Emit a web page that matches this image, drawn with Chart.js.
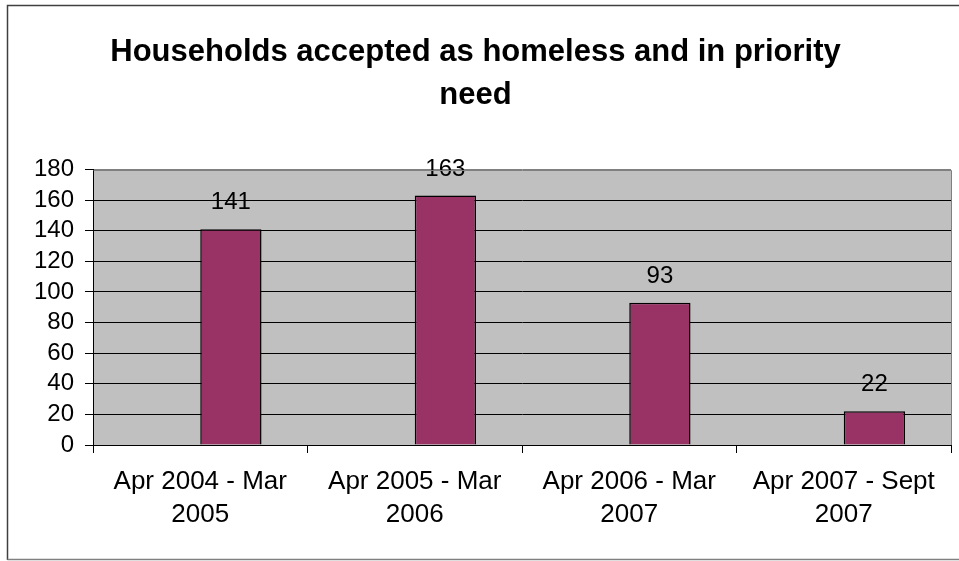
<!DOCTYPE html>
<html>
<head>
<meta charset="utf-8">
<title>Households accepted as homeless</title>
<script src="https://cdn.jsdelivr.net/npm/chart.js"></script>
<style>
    html, body { margin: 0; padding: 0; background: #ffffff; }
    #chartWrap { width: 959px; height: 561px; position: relative; }
</style>
</head>
<body>
<div id="chartWrap"><canvas id="homelessChart"></canvas></div>
<script>
// Chart data
const chartTitle = ['Households accepted as homeless and in priority', 'need'];
const periods = [
    ['Apr 2004 - Mar', '2005'],
    ['Apr 2005 - Mar', '2006'],
    ['Apr 2006 - Mar', '2007'],
    ['Apr 2007 - Sept', '2007']
];
const households = [141, 163, 93, 22];
const emptySeries = [null, null, null, null];
const yTicks = [0, 20, 40, 60, 80, 100, 120, 140, 160, 180];

const FONT = "'Liberation Sans', Arial, Helvetica, sans-serif";

document.addEventListener('DOMContentLoaded', function() {
    initializeChart();
});

// Outer frame and grey plot background (Excel look)
const frameBackground = {
    id: 'frameBackground',
    beforeDraw(chart) {
        const ctx = chart.ctx;
        const area = chart.chartArea;
        ctx.save();
        ctx.fillStyle = '#ffffff';
        ctx.fillRect(0, 0, chart.width, chart.height);

        // outer border
        ctx.lineWidth = 1.5;
        ctx.strokeStyle = '#404040';
        ctx.beginPath();
        ctx.moveTo(7.5, 560);
        ctx.lineTo(7.5, 5.5);
        ctx.lineTo(chart.width + 2, 5.5);
        ctx.stroke();
        ctx.strokeStyle = '#808080';
        ctx.beginPath();
        ctx.moveTo(7.5, 559.5);
        ctx.lineTo(chart.width + 2, 559.5);
        ctx.stroke();

        // plot area fill
        ctx.fillStyle = '#c0c0c0';
        ctx.fillRect(area.left, area.top, area.right - area.left, area.bottom - area.top);
        ctx.restore();
    },
    afterDraw(chart) {
        const ctx = chart.ctx;
        const area = chart.chartArea;
        ctx.save();
        ctx.lineWidth = 1;
        ctx.strokeStyle = '#808080';
        ctx.beginPath();
        ctx.moveTo(Math.round(area.left) + 0.5, Math.round(area.top) + 0.5);
        ctx.lineTo(Math.round(area.right) + 0.5, Math.round(area.top) + 0.5);
        ctx.lineTo(Math.round(area.right) + 0.5, Math.round(area.bottom));
        ctx.stroke();
        ctx.restore();
    }
};

// Value labels above each bar
const barValueLabels = {
    id: 'barValueLabels',
    afterDatasetsDraw(chart) {
        const ctx = chart.ctx;
        const meta = chart.getDatasetMeta(1);
        ctx.save();
        ctx.font = '24px ' + FONT;
        ctx.fillStyle = '#000000';
        ctx.textAlign = 'center';
        ctx.textBaseline = 'alphabetic';
        meta.data.forEach(function(bar, i) {
            ctx.fillText(String(households[i]), bar.x, bar.y - 20);
        });
        ctx.restore();
    }
};

function initializeChart() {
    const ctx = document.getElementById('homelessChart');
    if (!ctx) return;

    new Chart(ctx, {
        type: 'bar',
        data: {
            labels: periods,
            datasets: [{
                label: 'Blank',
                data: emptySeries,
                backgroundColor: '#9999ff'
            }, {
                label: 'Households',
                data: households,
                backgroundColor: '#993366',
                borderColor: '#000000',
                borderWidth: 1.5
            }]
        },
        options: {
            responsive: true,
            maintainAspectRatio: false,
            animation: false,
            devicePixelRatio: 1,
            categoryPercentage: 2 / 3.5,
            barPercentage: 1,
            layout: {
                padding: { left: 0, right: 8, top: 0, bottom: 0 }
            },
            plugins: {
                legend: { display: false },
                tooltip: { enabled: false },
                title: {
                    display: true,
                    text: chartTitle,
                    color: '#000000',
                    font: { family: FONT, size: 31, weight: 'bold', lineHeight: 1.38 },
                    padding: { top: 31, bottom: 53 }
                }
            },
            scales: {
                y: {
                    min: 0,
                    max: 180,
                    afterBuildTicks: function(scale) {
                        scale.ticks = yTicks.map(function(v) { return { value: v }; });
                    },
                    afterFit: function(scale) {
                        scale.width = 93;
                    },
                    grid: {
                        color: function(c) {
                            return c.tick && c.tick.value === 180 ? '#808080' : '#000000';
                        },
                        lineWidth: 1,
                        drawTicks: true,
                        tickLength: 8,
                        tickColor: '#000000'
                    },
                    border: { color: '#000000', width: 1 },
                    ticks: {
                        color: '#000000',
                        padding: 11,
                        autoSkip: false,
                        font: { family: FONT, size: 24 }
                    }
                },
                x: {
                    afterFit: function(scale) {
                        scale.height = 116;
                    },
                    grid: {
                        offset: true,
                        drawOnChartArea: false,
                        drawTicks: true,
                        tickLength: 8,
                        color: '#000000',
                        tickColor: '#000000'
                    },
                    border: { color: '#000000', width: 1 },
                    ticks: {
                        color: '#000000',
                        padding: 12,
                        maxRotation: 0,
                        autoSkip: false,
                        font: { family: FONT, size: 26, lineHeight: 1.28 }
                    }
                }
            }
        },
        plugins: [frameBackground, barValueLabels]
    });
}
</script>
</body>
</html>
